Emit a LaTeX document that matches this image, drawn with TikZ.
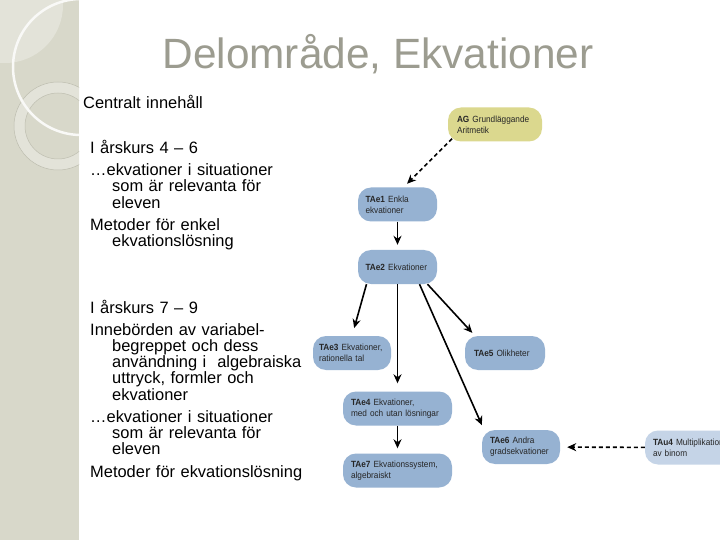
\documentclass[tikz,border=0pt]{standalone}
\usepackage{fontspec}
\setmainfont{Liberation Sans}
\newfontfamily\modfont[FakeStretch=0.92]{Liberation Sans}
\usetikzlibrary{arrows.meta}

\definecolor{faixa}{RGB}{216,216,202}
\definecolor{faixaclara}{RGB}{227,227,217}
\definecolor{anel}{RGB}{190,190,176}
\definecolor{titulo}{RGB}{156,156,144}
\definecolor{modazul}{RGB}{150,178,210}
\definecolor{modclaro}{RGB}{197,212,231}
\definecolor{modamarelo}{RGB}{219,216,142}

\tikzset{
    modul/.style={rounded corners=13bp, fill=modazul, align=left, inner xsep=8bp,
        inner ysep=3bp, minimum height=34bp, text=black!85,
        font=\modfont\fontsize{9}{11}\selectfont},
    pil/.style={->, line width=1.6bp, shorten >=5bp},
    streckpil/.style={pil, dash pattern=on 4bp off 3bp},
    lista/.style={anchor=base west, inner sep=0pt, text width=250bp, align=left,
        font=\fontsize{16.5}{16.3}\selectfont},
}

\begin{document}
\begin{tikzpicture}[x=1bp, y=-1bp, >={Stealth[length=9bp,width=8bp]}]

    % fundo
    \path[use as bounding box, clip] (0,0) rectangle (720,540);
    \fill[white] (0,0) rectangle (720,540);

    % faixa lateral
    \fill[faixa] (0,0) rectangle (79,540);
    \begin{scope}
        \clip (0,0) rectangle (79,540);
        \fill[faixaclara] (5,5) circle (58);
        \fill[faixaclara, even odd rule] (58,126) circle (44) (58,126) circle (33);
        \draw[anel, line width=0.5bp] (58,126) circle (44) (58,126) circle (33);
        \draw[white!85!faixa, line width=2.5bp] (81,67) circle (68);
    \end{scope}

    % titulo
    \node[anchor=base, text=titulo, font=\fontsize{42.5}{50}\selectfont] (titel) at (378,69) {Delområde, Ekvationer};

    % texto
    \node[lista] (rubrik) at (83,109) {Centralt innehåll};
    \node[lista] (ak46) at (90,153.5) {\setlength{\parskip}{6bp}\lineskiplimit=-20bp
        I årskurs 4 – 6\par
        \hangindent=22bp\hangafter=1 …ekvationer i situationer\newline som är relevanta för\newline eleven\par
        \hangindent=22bp\hangafter=1 Metoder för enkel\newline ekvationslösning\par};
    \node[lista] (ak79) at (90,313) {\setlength{\parskip}{6bp}\lineskiplimit=-20bp
        I årskurs 7 – 9\par
        \hangindent=22bp\hangafter=1 Innebörden av variabel-\newline begreppet och dess\newline användning i~ algebraiska\newline uttryck, formler och\newline ekvationer\par
        \hangindent=22bp\hangafter=1 …ekvationer i situationer\newline som är relevanta för\newline eleven\par
        \hangindent=22bp\hangafter=1 Metoder för ekvationslösning\par};

    % moduler
    \node[modul, fill=modamarelo, text width=76bp, inner xsep=9bp] (AG) at (495,124.5) {\textbf{AG} Grundläggande\\Aritmetik};
    \node[modul, text width=64bp, inner xsep=7.5bp] (TAe1) at (397.5,204.5) {\textbf{TAe1} Enkla\\ekvationer};
    \node[modul, text width=64bp, inner xsep=7.5bp] (TAe2) at (397.5,267) {\textbf{TAe2} Ekvationer};
    \node[modul, text width=66bp, inner xsep=6bp] (TAe3) at (352,353) {\textbf{TAe3} Ekvationer,\\rationella tal};
    \node[modul, text width=62bp, inner xsep=9bp] (TAe5) at (505,353) {\textbf{TAe5} Olikheter};
    \node[modul, text width=93bp] (TAe4) at (397.5,408.5) {\textbf{TAe4} Ekvationer,\\med och utan lösningar};
    \node[modul, text width=93bp] (TAe7) at (397.5,470.5) {\textbf{TAe7} Ekvationssystem,\\algebraiskt};
    \node[modul, text width=62bp] (TAe6) at (521,447) {\textbf{TAe6} Andra\\gradsekvationer};
    \node[modul, fill=modclaro, text width=79bp] (TAu4) at (692.5,447.5) {\textbf{TAu4} Multiplikation\\av binom};

    % pilar
    \draw[streckpil] ([xshift=-43bp,yshift=3bp]AG.south) -- ([xshift=6bp]TAe1.north);
    \draw[pil] (TAe1) -- (TAe2);
    \draw[pil, shorten >=8bp] ([xshift=-31bp]TAe2.south) -- (TAe3.north);
    \draw[pil, shorten >=8bp] (TAe2) -- (TAe4);
    \draw[pil] ([xshift=22bp]TAe2.south) -- ([xshift=-37bp]TAe6.north);
    \draw[pil, shorten >=4bp] ([xshift=30bp]TAe2.south) -- ([xshift=-30bp]TAe5.north);
    \draw[pil] (TAe4) -- (TAe7);
    \draw[streckpil, shorten >=7bp] (TAu4) -- (TAe6);

\end{tikzpicture}
\end{document}
